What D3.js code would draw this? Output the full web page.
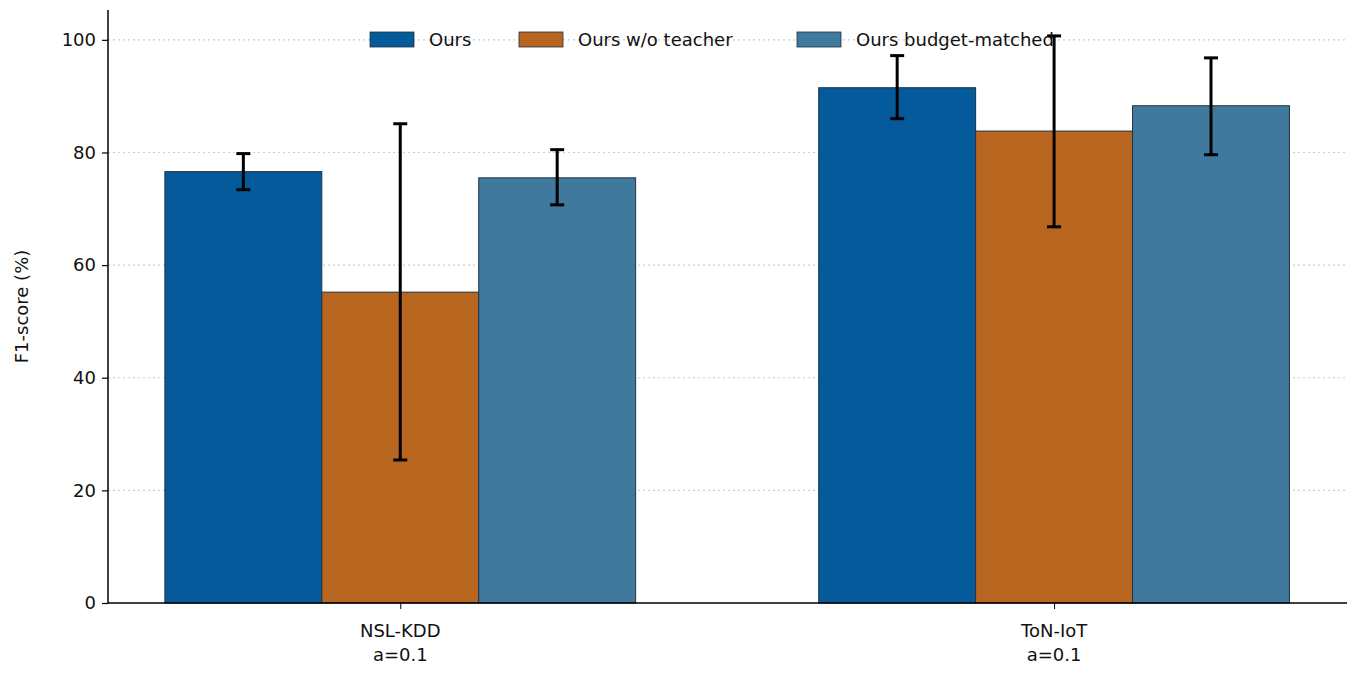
<!DOCTYPE html>
<html><head><meta charset="UTF-8">
<style>body{margin:0;background:#fff}text{font-family:"DejaVu Sans",sans-serif;fill:#111}</style>
</head><body><div id="chart"></div>
<script src="https://d3js.org/d3.v7.min.js"></script>
<script>
const groups = ["NSL-KDD\na=0.1", "ToN-IoT\na=0.1"];
const series = ["Ours", "Ours w/o teacher", "Ours budget-matched"];
const colors = ["#045a9a", "#b8651f", "#3f7a9e"];
const means = [[76.6, 55.2, 75.5], [91.5, 83.8, 88.3]];
const errLow = [[73.4, 25.4, 70.7], [86.0, 66.8, 79.6]];
const errHigh = [[79.8, 85.1, 80.5], [97.2, 100.7, 96.8]];
const yTicks = [0, 20, 40, 60, 80, 100];

const W = 1360, H = 675;
const pLeft = 108, pRight = 1347, pTop = 10, pBottom = 603;
const svg = d3.select("#chart").append("svg").attr("width", W).attr("height", H);

const x = d3.scaleLinear().domain([-0.447, 1.448]).range([pLeft, pRight]);
const y = d3.scaleLinear().domain([0, 105.3]).range([pBottom, pTop]);
const bw = 0.24;

// grid
svg.append("g").selectAll("line").data(yTicks.slice(1)).join("line")
  .attr("x1", pLeft).attr("x2", pRight).attr("y1", d => y(d)).attr("y2", d => y(d))
  .attr("stroke", "#ccc").attr("stroke-dasharray", "2,3").attr("stroke-width", 1.2);

groups.forEach((g, gi) => {
  series.forEach((s, si) => {
    const cx = gi + (si - 1) * bw;
    svg.append("rect")
      .attr("x", x(cx - bw / 2)).attr("width", x(bw) - x(0))
      .attr("y", y(means[gi][si])).attr("height", y(0) - y(means[gi][si]))
      .attr("fill", colors[si]).attr("stroke", "#1e3346").attr("stroke-width", 1);
  });
});
groups.forEach((g, gi) => {
  series.forEach((s, si) => {
    const px = x(gi + (si - 1) * bw);
    const e = svg.append("g").attr("stroke", "#000").attr("stroke-width", 3);
    e.append("line").attr("x1", px).attr("x2", px).attr("y1", y(errLow[gi][si])).attr("y2", y(errHigh[gi][si]));
    [errLow[gi][si], errHigh[gi][si]].forEach(v =>
      e.append("line").attr("x1", px - 7).attr("x2", px + 7).attr("y1", y(v)).attr("y2", y(v)));
  });
});

// axes
const ya = svg.append("g").attr("transform", `translate(${pLeft},0)`)
  .call(d3.axisLeft(y).tickValues(yTicks).tickSize(6).tickPadding(6));
ya.select(".domain").attr("d", `M0,${pTop}V${pBottom}`).attr("stroke-width", 1.5);
ya.selectAll("text").style("font-size", "18px");
ya.selectAll(".tick line").attr("stroke-width", 1.2);

const xa = svg.append("g").attr("transform", `translate(0,${pBottom})`)
  .call(d3.axisBottom(x).tickValues([0, 1]).tickSize(6).tickFormat(""));
xa.select(".domain").attr("d", `M${pLeft},0H${pRight}`).attr("stroke-width", 1.5);
groups.forEach((g, gi) => {
  const t = svg.append("text").attr("x", x(gi)).attr("y", pBottom + 34)
    .attr("text-anchor", "middle").style("font-size", "18px");
  g.split("\n").forEach((l, i) => t.append("tspan").attr("x", x(gi)).attr("dy", i ? 24 : 0).text(l));
});

svg.append("text").attr("transform", `translate(28,${(pTop + pBottom) / 2}) rotate(-90)`)
  .attr("text-anchor", "middle").style("font-size", "18px").text("F1-score (%)");

// legend
const lx = [370, 519, 797];
series.forEach((s, i) => {
  svg.append("rect").attr("x", lx[i]).attr("y", 32).attr("width", 44).attr("height", 15)
    .attr("fill", colors[i]).attr("stroke", "#1e3346").attr("stroke-width", 0.8);
  svg.append("text").attr("x", lx[i] + 59).attr("y", 46).style("font-size", "18px").text(s);
});
</script></body></html>
